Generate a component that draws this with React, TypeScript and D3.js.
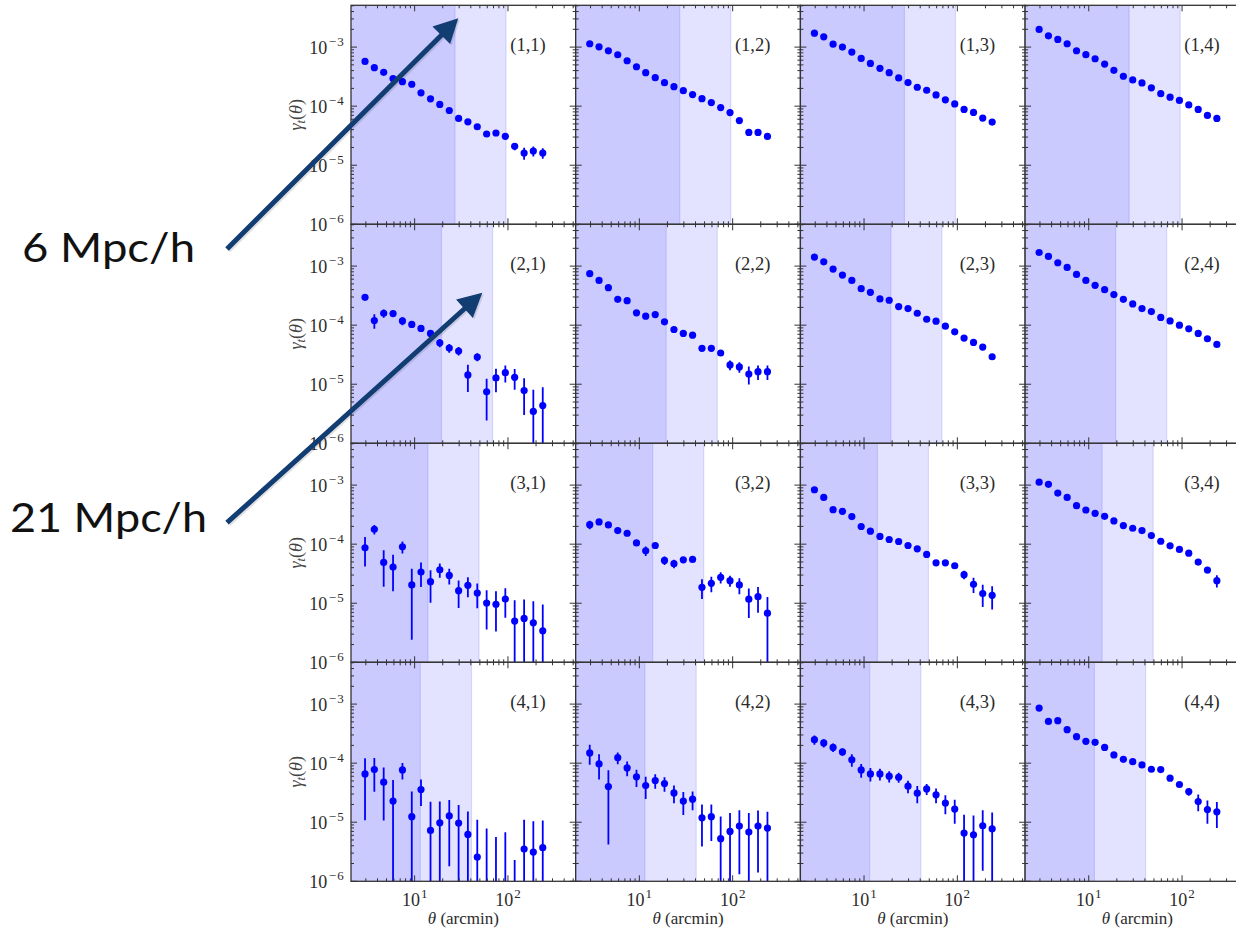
import React from 'react';
import * as d3 from 'd3';

// ---------- data ----------
const THETA = [2.94, 3.70, 4.66, 5.87, 7.40, 9.32, 11.7, 14.8, 18.6, 23.5, 29.6, 37.2, 46.9, 59.1, 74.4, 93.7, 118, 149, 187, 236];

const X_DOMAIN = [2.08, 532];
const Y_DOMAIN = [1e-6, 5.1e-3];

// scale cuts per row (arcmin): dark band and light band upper edges
const CUT_DARK = [27.1, 19.4, 13.9, 11.5];
const CUT_LIGHT = [95.4, 68.4, 49.0, 40.7];

const X_LABEL = 'θ (arcmin)';
const ANNOT_TEXTS = ['6 Mpc/h', '21 Mpc/h'];

const G11 = [5.73e-4, 4.49e-4, 3.74e-4, 2.93e-4, 2.60e-4, 2.35e-4, 1.68e-4, 1.33e-4, 1.07e-4, 8.45e-5, 6.20e-5, 5.44e-5, 4.48e-5, 3.38e-5, 3.51e-5, 3.08e-5, 2.09e-5, 1.61e-5, 1.74e-5, 1.61e-5];
const E11 = [2.0e-5, 1.6e-5, 1.3e-5, 1.1e-5, 1.0e-5, 9e-6, 7e-6, 6e-6, 5e-6, 4e-6, 3.2e-6, 3e-6, 2.8e-6, 2.5e-6, 2.6e-6, 2.5e-6, 3e-6, 3.7e-6, 3.3e-6, 3.2e-6];
const G12 = [1.14e-3, 1.01e-3, 8.66e-4, 7.42e-4, 5.87e-4, 4.65e-4, 3.69e-4, 3.04e-4, 2.50e-4, 2.14e-4, 1.83e-4, 1.57e-4, 1.34e-4, 1.15e-4, 9.47e-5, 7.79e-5, 5.71e-5, 3.59e-5, 3.59e-5, 3.07e-5];
const E12 = [3e-5, 2.5e-5, 2e-5, 1.7e-5, 1.4e-5, 1.1e-5, 9e-6, 7e-6, 6e-6, 5e-6, 4.5e-6, 4e-6, 3.5e-6, 3e-6, 2.5e-6, 2.2e-6, 2e-6, 2e-6, 2e-6, 2e-6];
const G13 = [1.72e-3, 1.49e-3, 1.12e-3, 1.00e-3, 8.24e-4, 6.44e-4, 5.30e-4, 4.37e-4, 3.69e-4, 3.01e-4, 2.51e-4, 2.09e-4, 1.86e-4, 1.55e-4, 1.28e-4, 1.09e-4, 8.79e-5, 7.82e-5, 6.28e-5, 5.37e-5];
const E13 = [4e-5, 3.5e-5, 3e-5, 2.5e-5, 2e-5, 1.6e-5, 1.3e-5, 1.1e-5, 9e-6, 7.5e-6, 6e-6, 5e-6, 4.5e-6, 4e-6, 3.5e-6, 3e-6, 2.6e-6, 2.4e-6, 2.2e-6, 2e-6];
const G14 = [1.99e-3, 1.55e-3, 1.35e-3, 1.14e-3, 8.67e-4, 7.43e-4, 6.35e-4, 5.16e-4, 4.05e-4, 3.21e-4, 2.78e-4, 2.47e-4, 2.04e-4, 1.63e-4, 1.42e-4, 1.25e-4, 1.05e-4, 8.79e-5, 6.97e-5, 6.19e-5];
const E14 = [4.5e-5, 3.5e-5, 3e-5, 2.5e-5, 2e-5, 1.7e-5, 1.4e-5, 1.2e-5, 1e-5, 8e-6, 7e-6, 6e-6, 5e-6, 4.2e-6, 3.8e-6, 3.4e-6, 3e-6, 2.6e-6, 2.3e-6, 2.1e-6];

const G21 = [2.96e-4, 1.20e-4, 1.59e-4, 1.57e-4, 1.18e-4, 1.03e-4, 8.79e-5, 7.24e-5, 5.04e-5, 4.10e-5, 3.65e-5, 1.44e-5, 2.89e-5, 7.43e-6, 1.28e-5, 1.57e-5, 1.31e-5, 7.82e-6, 3.46e-6, 4.36e-6];
const E21 = [1.5e-5, 3.3e-5, 2.5e-5, 1.8e-5, 1.8e-5, 1.3e-5, 1.0e-5, 8e-6, 8e-6, 7e-6, 6e-6, 7e-6, 4.5e-6, 5e-6, 5.5e-6, 5e-6, 5e-6, 4.8e-6, 4.6e-6, 4.5e-6];
const G22 = [7.43e-4, 5.73e-4, 4.31e-4, 2.74e-4, 2.60e-4, 1.62e-4, 1.42e-4, 1.51e-4, 1.14e-4, 8.45e-5, 7.24e-5, 6.78e-5, 4.05e-5, 4.05e-5, 3.38e-5, 2.12e-5, 1.96e-5, 1.49e-5, 1.63e-5, 1.63e-5];
const E22 = [2.5e-5, 2e-5, 1.6e-5, 1.2e-5, 1.1e-5, 9e-6, 8e-6, 8e-6, 6e-6, 5e-6, 4.5e-6, 4e-6, 3.5e-6, 3.3e-6, 3.5e-6, 4e-6, 4e-6, 5e-6, 4.5e-6, 4.5e-6];
const G23 = [1.42e-3, 1.18e-3, 8.90e-4, 7.05e-4, 5.73e-4, 4.15e-4, 3.60e-4, 2.78e-4, 2.64e-4, 2.06e-4, 1.91e-4, 1.59e-4, 1.26e-4, 1.17e-4, 9.62e-5, 7.72e-5, 6.04e-5, 5.10e-5, 4.26e-5, 2.92e-5];
const E23 = [4e-5, 3.5e-5, 2.8e-5, 2.3e-5, 1.9e-5, 1.5e-5, 1.3e-5, 1.1e-5, 1e-5, 8e-6, 7e-6, 6e-6, 5e-6, 4.5e-6, 4e-6, 3.5e-6, 3e-6, 2.8e-6, 2.6e-6, 2.5e-6];
const G24 = [1.70e-3, 1.46e-3, 1.14e-3, 9.50e-4, 7.24e-4, 5.73e-4, 4.72e-4, 3.99e-4, 3.29e-4, 2.74e-4, 2.29e-4, 1.91e-4, 1.70e-4, 1.35e-4, 1.18e-4, 1.00e-4, 8.67e-5, 7.24e-5, 5.89e-5, 4.72e-5];
const E24 = [4.5e-5, 3.8e-5, 3e-5, 2.5e-5, 2e-5, 1.6e-5, 1.3e-5, 1.1e-5, 9.5e-6, 8e-6, 7e-6, 6e-6, 5.2e-6, 4.5e-6, 4e-6, 3.5e-6, 3.1e-6, 2.8e-6, 2.5e-6, 2.3e-6];

const G31 = [8.67e-5, 1.79e-4, 4.91e-5, 4.09e-5, 9.02e-5, 2.04e-5, 3.38e-5, 2.32e-5, 3.69e-5, 2.96e-5, 1.63e-5, 2.01e-5, 1.49e-5, 1.01e-5, 9.62e-6, 1.18e-5, 4.98e-6, 5.52e-6, 4.67e-6, 3.42e-6];
const E31 = [4.5e-5, 3.3e-5, 3.0e-5, 2.5e-5, 2.1e-5, 1.8e-5, 1.5e-5, 1.3e-5, 1.0e-5, 8.8e-6, 8e-6, 7.5e-6, 6.7e-6, 6.5e-6, 6.3e-6, 6.1e-6, 6.2e-6, 6.0e-6, 6.1e-6, 6.1e-6];
const G32 = [2.14e-4, 2.38e-4, 2.12e-4, 1.70e-4, 1.53e-4, 1.05e-4, 7.72e-5, 9.50e-5, 5.31e-5, 4.67e-5, 5.44e-5, 5.52e-5, 1.86e-5, 2.17e-5, 2.74e-5, 2.41e-5, 2.04e-5, 1.17e-5, 1.29e-5, 6.78e-6];
const E32 = [3.5e-5, 1.5e-5, 1.0e-5, 1.0e-5, 8e-6, 1.2e-5, 1.4e-5, 8e-6, 8.8e-6, 7.7e-6, 4e-6, 4e-6, 6.8e-6, 6.4e-6, 5.9e-6, 5e-6, 6.2e-6, 6.1e-6, 6e-6, 6e-6];
const G33 = [8.34e-4, 6.19e-4, 3.84e-4, 3.60e-4, 2.93e-4, 1.99e-4, 1.66e-4, 1.35e-4, 1.20e-4, 1.11e-4, 9.50e-5, 8.34e-5, 6.70e-5, 4.84e-5, 4.84e-5, 4.31e-5, 3.04e-5, 2.09e-5, 1.46e-5, 1.36e-5];
const E33 = [3e-5, 2.5e-5, 1.8e-5, 1.6e-5, 1.3e-5, 1e-5, 8.5e-6, 7e-6, 6e-6, 5.5e-6, 5e-6, 4.5e-6, 4e-6, 3.5e-6, 3.5e-6, 3.5e-6, 5e-6, 6e-6, 6e-6, 5.8e-6];
const G34 = [1.12e-3, 1.03e-3, 7.33e-4, 6.19e-4, 4.49e-4, 3.79e-4, 3.33e-4, 2.96e-4, 2.47e-4, 2.06e-4, 1.86e-4, 1.70e-4, 1.40e-4, 1.12e-4, 9.38e-5, 8.13e-5, 7.05e-5, 4.98e-5, 3.65e-5, 2.41e-5];
const E34 = [3.5e-5, 3e-5, 2.5e-5, 2e-5, 1.6e-5, 1.4e-5, 1.2e-5, 1e-5, 9e-6, 8e-6, 7e-6, 6.5e-6, 5.5e-6, 5e-6, 4.5e-6, 4e-6, 4e-6, 4e-6, 4.2e-6, 5.7e-6];

const G41 = [6.58e-5, 7.78e-5, 4.77e-5, 2.28e-5, 7.69e-5, 1.24e-5, 3.58e-5, 7.28e-6, 9.8e-6, 1.28e-5, 9.66e-6, 6.22e-6, 2.58e-6, -1.0e-6, -2.0e-6, -1.5e-6, -5.0e-6, 3.52e-6, 3.13e-6, 3.71e-6];
const E41 = [5.5e-5, 4.5e-5, 3.7e-5, 2.9e-5, 2.4e-5, 2.07e-5, 1.7e-5, 1.5e-5, 1.26e-5, 1.1e-5, 1.0e-5, 9.0e-6, 8.4e-6, 8.8e-6, 7.6e-6, 8.3e-6, 7.3e-6, 7.5e-6, 7.3e-6, 7.0e-6];
const G42 = [1.49e-4, 9.71e-5, 4.02e-5, 1.24e-4, 8.32e-5, 5.86e-5, 4.18e-5, 5.08e-5, 4.52e-5, 3.14e-5, 2.28e-5, 2.46e-5, 1.19e-5, 1.24e-5, 5.26e-6, 7.0e-6, 8.61e-6, 6.81e-6, 8.61e-6, 7.96e-6];
const E42 = [5.5e-5, 4.4e-5, 3.6e-5, 2.8e-5, 2.3e-5, 1.9e-5, 1.7e-5, 1.4e-5, 1.25e-5, 1.05e-5, 9.6e-6, 8.6e-6, 8.0e-6, 7.6e-6, 7.3e-6, 7.3e-6, 7.3e-6, 7.5e-6, 7.2e-6, 7.1e-6];
const G43 = [2.50e-4, 2.20e-4, 1.85e-4, 1.55e-4, 1.14e-4, 7.69e-5, 6.58e-5, 6.58e-5, 6.01e-5, 5.78e-5, 4.07e-5, 3.10e-5, 3.67e-5, 2.91e-5, 2.11e-5, 1.67e-5, 6.56e-6, 6.14e-6, 8.71e-6, 7.76e-6];
const E43 = [4.5e-5, 3.5e-5, 3e-5, 2.2e-5, 2.7e-5, 2e-5, 1.7e-5, 1.5e-5, 1.3e-5, 1.1e-5, 9.7e-6, 1e-5, 7.8e-6, 8.2e-6, 7.4e-6, 7.3e-6, 6.8e-6, 6.9e-6, 7.2e-6, 6.9e-6];
const G44 = [8.56e-4, 5.09e-4, 5.23e-4, 3.69e-4, 2.81e-4, 2.34e-4, 2.25e-4, 1.85e-4, 1.38e-4, 1.16e-4, 1.06e-4, 9.33e-5, 7.89e-5, 7.78e-5, 5.56e-5, 4.35e-5, 3.31e-5, 2.24e-5, 1.64e-5, 1.50e-5];
const E44 = [3e-5, 2.2e-5, 2e-5, 1.6e-5, 1.3e-5, 1.1e-5, 1e-5, 8.5e-6, 7e-6, 6e-6, 5.5e-6, 5e-6, 4.5e-6, 4.5e-6, 3.5e-6, 4e-6, 5e-6, 7e-6, 7e-6, 7e-6];

const SIGNAL = [
  [G11, G12, G13, G14],
  [G21, G22, G23, G24],
  [G31, G32, G33, G34],
  [G41, G42, G43, G44],
];
const ERRORS = [
  [E11, E12, E13, E14],
  [E21, E22, E23, E24],
  [E31, E32, E33, E34],
  [E41, E42, E43, E44],
];

// ---------- layout ----------
const W = 1236;
const H = 930;
const LEFT = 351;
const TOP = 5.3;
const PW = 224.7;
const PH = 219;
const AXIS_COLOR = '#333333';
const TEXT_COLOR = '#2b2b2b';
const TIMES_STYLE = { fontFamily: "'Liberation Serif', 'DejaVu Serif', serif" };
const BLUE = '#0000ff';

// annotation arrows (overlay, in page pixels)
const ARROWS = [
  { x1: 227, y1: 249, x2: 458.3, y2: 18.3 },
  { x1: 227, y1: 522.7, x2: 482.3, y2: 292.7 },
];
const ANNOT_POS = [
  { x: 22, y: 261.5, len: 173, size: 40 },
  { x: 10, y: 531.5, len: 197, size: 41 },
];

function arrowPath(a: { x1: number; y1: number; x2: number; y2: number }) {
  const dx = a.x2 - a.x1;
  const dy = a.y2 - a.y1;
  const L = Math.hypot(dx, dy);
  const ux = dx / L, uy = dy / L;
  const px = -uy, py = ux;
  const hl = 24, hw = 12.5, sw = 2.5;
  const bx = a.x2 - ux * hl, by = a.y2 - uy * hl;
  const pts = [
    [a.x1 + px * sw, a.y1 + py * sw],
    [bx + px * sw, by + py * sw],
    [bx + px * hw, by + py * hw],
    [a.x2, a.y2],
    [bx - px * hw, by - py * hw],
    [bx - px * sw, by - py * sw],
    [a.x1 - px * sw, a.y1 - py * sw],
  ];
  return 'M' + pts.map((p) => p[0].toFixed(2) + ',' + p[1].toFixed(2)).join('L') + 'Z';
}

export default function App() {
  const x = d3.scaleLog().domain(X_DOMAIN).range([0, PW]);
  const y = d3.scaleLog().domain(Y_DOMAIN).range([PH, 0]);
  const xt = x.ticks();
  const yt = y.ticks();
  const isMajor = (v: number) => Math.abs(Math.log10(v) - Math.round(Math.log10(v))) < 1e-6;
  const expOf = (v: number) => Math.round(Math.log10(v));
  const fmtExp = (e: number) => (e < 0 ? '\u2212' + Math.abs(e) : String(e));

  const panels = [];
  for (let r = 0; r < 4; r++) {
    for (let c = 0; c < 4; c++) {
      const ox = LEFT + c * PW;
      const oy = TOP + r * PH;
      const vals = SIGNAL[r][c];
      const errs = ERRORS[r][c];
      const xDark = x(CUT_DARK[r]);
      const xLight = x(CUT_LIGHT[r]);
      panels.push(
        <g key={`p${r}${c}`} transform={`translate(${ox},${oy})`}>
          <g clipPath="url(#panelClip)">
            <rect x={0} y={0} width={PW} height={PH} fill="#ffffff" />
            <rect x={0} y={0} width={xLight} height={PH} fill={BLUE} fillOpacity={0.11} />
            <rect x={0} y={0} width={xDark} height={PH} fill={BLUE} fillOpacity={0.11} />
            <line x1={xLight} x2={xLight} y1={0} y2={PH} stroke={BLUE} strokeOpacity={0.12} strokeWidth={1.2} />
            <line x1={xDark} x2={xDark} y1={0} y2={PH} stroke={BLUE} strokeOpacity={0.12} strokeWidth={1.2} />
            {vals.map((v, i) => {
              const e = errs[i];
              const hi = v + e;
              const lo = v - e;
              const yHi = y(hi);
              const yLo = lo > 0 ? y(lo) : PH + 5;
              return (
                <line key={`e${i}`} x1={x(THETA[i])} x2={x(THETA[i])} y1={yHi} y2={yLo} stroke={BLUE} strokeWidth={1.8} />
              );
            })}
            {vals.map((v, i) =>
              v > 0 ? <circle key={`m${i}`} cx={x(THETA[i])} cy={y(v)} r={3.6} fill={BLUE} /> : null
            )}
          </g>
          {xt.map((t, i) => {
            const len = isMajor(t) ? 6 : 3;
            const xx = x(t);
            return (
              <g key={`xt${i}`} stroke={AXIS_COLOR} strokeWidth={1}>
                <line x1={xx} x2={xx} y1={PH} y2={PH - len} />
                <line x1={xx} x2={xx} y1={0} y2={len} />
              </g>
            );
          })}
          {yt.map((t, i) => {
            const len = isMajor(t) ? 6 : 3;
            const yy = y(t);
            return (
              <g key={`yt${i}`} stroke={AXIS_COLOR} strokeWidth={1}>
                <line x1={0} x2={len} y1={yy} y2={yy} />
                <line x1={PW} x2={PW - len} y1={yy} y2={yy} />
              </g>
            );
          })}
          <rect x={0} y={0} width={PW} height={PH} fill="none" stroke={AXIS_COLOR} strokeWidth={1.3} />
          <text x={PW - 30} y={46} textAnchor="end" style={TIMES_STYLE} fontSize={18.5} fill={TEXT_COLOR}>
            {`(${r + 1},${c + 1})`}
          </text>
          {c === 0 &&
            yt.filter(isMajor).map((t, i) => (
              <text key={`yl${i}`} x={-6} y={y(t) + 7} textAnchor="end" style={TIMES_STYLE} fontSize={18} fill={TEXT_COLOR}>
                10
                <tspan dx={1.5} dy={-8} fontSize={13} letterSpacing={1.2}>{fmtExp(expOf(t))}</tspan>
              </text>
            ))}
          {c === 0 && (
            <text
              transform={`translate(${302 - ox},${PH / 2}) rotate(-90)`}
              textAnchor="middle"
              style={TIMES_STYLE}
              fontSize={18}
              fill="#444"
            >
              <tspan fontStyle="italic">γ</tspan>
              <tspan fontStyle="italic" fontSize={12.5} dy={3}>t</tspan>
              <tspan dy={-3}>(</tspan>
              <tspan fontStyle="italic">θ</tspan>
              <tspan>)</tspan>
            </text>
          )}
          {r === 3 &&
            xt.filter(isMajor).map((t, i) => (
              <text key={`xl${i}`} x={x(t)} y={PH + 25} textAnchor="middle" style={TIMES_STYLE} fontSize={18} fill={TEXT_COLOR}>
                10
                <tspan dx={1} dy={-8} fontSize={13}>{fmtExp(expOf(t))}</tspan>
              </text>
            ))}
          {r === 3 && (
            <text x={PW / 2} y={PH + 42.5} textAnchor="middle" style={TIMES_STYLE} fontSize={17} fill={TEXT_COLOR}>
              <tspan fontStyle="italic">θ</tspan>
              <tspan>{X_LABEL.slice(1)}</tspan>
            </text>
          )}
        </g>
      );
    }
  }

  return (
    <svg
      width={W}
      height={H}
      viewBox={`0 0 ${W} ${H}`}
      style={{ position: 'absolute', left: 0, top: 0, background: '#ffffff' }}
    >
      <defs>
        <clipPath id="panelClip">
          <rect x={0} y={0} width={PW} height={PH} />
        </clipPath>
      </defs>
      <rect x={0} y={0} width={W} height={H} fill="#ffffff" />
      {panels}
      {ANNOT_TEXTS.map((t, i) => (
        <text
          key={`an${i}`}
          x={ANNOT_POS[i].x}
          y={ANNOT_POS[i].y}
          style={{ fontFamily: "Lato, 'Open Sans', sans-serif" }}
          fontSize={ANNOT_POS[i].size}
          textLength={ANNOT_POS[i].len}
          lengthAdjust="spacingAndGlyphs"
          fill="#111"
        >
          {t}
        </text>
      ))}
      {ARROWS.map((a, i) => (
        <g key={`ar${i}`}>
          <path d={arrowPath({ x1: a.x1 + 1.5, y1: a.y1 + 1.5, x2: a.x2 + 1.5, y2: a.y2 + 1.5 })} fill="#000" fillOpacity={0.12} />
          <path d={arrowPath(a)} fill="#123d73" />
        </g>
      ))}
    </svg>
  );
}
